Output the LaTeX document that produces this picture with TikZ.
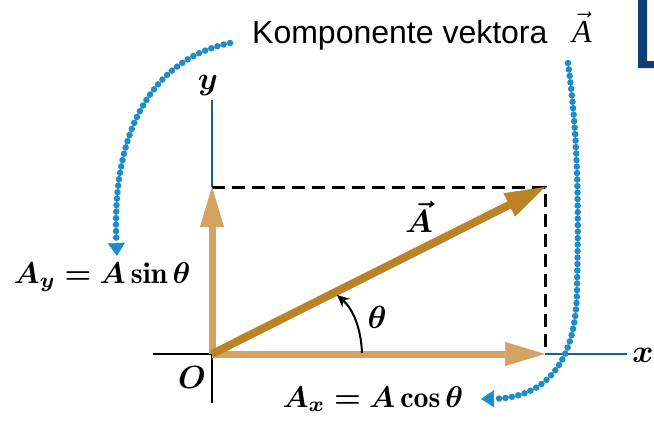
\documentclass[tikz,border=0pt]{standalone}
\usepackage{fontspec}
\usepackage{amsmath}
\usepackage{bm}
\usetikzlibrary{arrows.meta}
\newfontfamily\titlefont{Liberation Sans}
\newfontfamily\serifit{Liberation Serif}
\definecolor{tanc}{HTML}{D4A262}
\definecolor{goldc}{HTML}{BA8426}
\definecolor{dotblue}{HTML}{1E8CC8}
\definecolor{axblue}{HTML}{1D5F8A}
\definecolor{navyc}{HTML}{0F3F73}
\begin{document}
\begin{tikzpicture}[x=1pt,y=-1pt,
  axisline/.style={line width=2.5pt},
  guide/.style={line width=3pt, dash pattern=on 13pt off 7pt},
  comp/.style={line width=7pt, draw=tanc, -{Triangle[length=40pt,width=24pt,line width=0.5pt]}},
  vecA/.style={line width=8pt, draw=goldc, -{Triangle[length=40pt,width=26pt,line width=0.5pt]}},
  dotarrow/.style={draw=dotblue, line width=6.5pt, line cap=round, dash pattern=on 0pt off 6.5pt,
     -{Triangle[length=13pt,width=17pt,line width=0.5pt,fill=dotblue]}},
  lbl/.style={inner sep=0pt, anchor=base west, scale=3},
  sym/.style={inner sep=0pt, anchor=base, scale=3.2}]
\useasboundingbox (0,0) rectangle (654,421);

% key points
\coordinate (O) at (212,354);
\coordinate (ytip) at (212,187);
\coordinate (xtip) at (545,354);
\coordinate (atip) at (545,187);
\coordinate (ytop) at (212,100);
\coordinate (ybot) at (212,403);
\coordinate (xleft) at (153,354);
\coordinate (xright) at (627,354);

% corner bracket
\fill[navyc] (638,0) -- (647,0) -- (647,61) -- (654,61) -- (654,68) -- (638,68) -- cycle;

% axes
\draw[axisline, axblue] (ytop) -- (ytip);
\draw[axisline] (O) -- (ybot);
\draw[axisline] (xleft) -- (O);
\draw[axisline, axblue] (xtip) -- (xright);

% dashed guides
\draw[guide] (ytip) -- (atip) -- (xtip);

% vectors
\draw[comp] (O) -- (ytip);
\draw[comp] (O) -- (xtip);
\draw[vecA] (O) -- (atip);

% angle arc
\coordinate (arcs) at (362,353);
\coordinate (arce) at (337,295);
\draw[line width=2pt, -{Stealth[length=12pt,width=11pt]}] (arcs) .. controls (361,328) and (353,309) .. (arce);

% labels
\node[inner sep=0pt, anchor=base west, font=\titlefont\fontsize{32}{38}\selectfont] (title) at (252,43) {Komponente vektora};
\node[inner sep=0pt, anchor=base, scale=3.2] (titleA) at (582,42) {$\vec{\mbox{\serifit\itshape A}}$};
\node[lbl] (Ay) at (13,283) {$\bm{A_y = A\sin\theta}$};
\node[lbl] (Ax) at (282,407) {$\bm{A_x = A\cos\theta}$};
\node[sym] (ylab) at (208,89) {$\bm{y}$};
\node[sym] (xlab) at (643,362) {$\bm{x}$};
\node[sym] (Olab) at (192,388) {$\bm{O}$};
\node[sym] (thlab) at (377,328) {$\bm{\theta}$};
\node[sym] (Alab) at (419,232) {$\bm{\vec{A}}$};

% dotted pointers
\coordinate (ls) at (230,43);
\coordinate (le) at (117,256);
\coordinate (rs) at (568,63);
\coordinate (re) at (481,399);
\draw[dotarrow] (ls) .. controls (140,62) and (112,150) .. (le);
\draw[dotarrow] (rs) .. controls (580,150) and (578,230) .. (577,290)
   .. controls (576,375) and (535,398) .. (re);
\end{tikzpicture}
\end{document}
